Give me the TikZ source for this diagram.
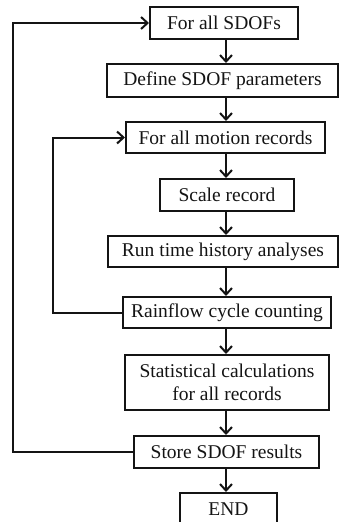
\documentclass[tikz,border=0pt]{standalone}
\usepackage{fontspec}
\setmainfont{Liberation Serif}
\usetikzlibrary{arrows.meta}
\definecolor{ink}{RGB}{20,20,20}
\begin{document}
\begin{tikzpicture}[x=1pt,y=-1pt,
  stepbox/.style={draw=ink, line width=2pt, inner sep=0pt, text=ink,
    font=\fontsize{19.5}{23}\selectfont, align=center},
  conn/.style={line width=2pt, draw=ink,
    -{Straight Barb[length=6.5pt,width=12pt]}}]
\useasboundingbox (0,0) rectangle (339,522);
\node[stepbox, minimum width=148pt, minimum height=32pt] (b1) at (224,23) {For all SDOFs};
\node[stepbox, minimum width=231pt, minimum height=33pt] (b2) at (222.5,80.5) {Define SDOF parameters};
\node[stepbox, minimum width=199pt, minimum height=31pt] (b3) at (225.5,137.5) {For all motion records};
\node[stepbox, minimum width=134pt, minimum height=32pt] (b4) at (227,195) {Scale record};
\node[stepbox, minimum width=230pt, minimum height=31pt] (b5) at (223,251.5) {Run time history analyses};
\node[stepbox, minimum width=208pt, minimum height=31pt] (b6) at (227,312.5) {Rainflow cycle counting};
\node[stepbox, minimum width=204pt, minimum height=55pt] (b7) at (227,382.5) {Statistical calculations\\for all records};
\node[stepbox, minimum width=185pt, minimum height=32pt] (b8) at (226.5,452) {Store SDOF results};
\node[stepbox, minimum width=97pt, minimum height=32pt] (b9) at (228.5,509) {END};
\coordinate (cx) at (226,0);
\draw[conn] (b1.south -| cx) -- (b2.north -| cx);
\draw[conn] (b2.south -| cx) -- (b3.north -| cx);
\draw[conn] (b3.south -| cx) -- (b4.north -| cx);
\draw[conn] (b4.south -| cx) -- (b5.north -| cx);
\draw[conn] (b5.south -| cx) -- (b6.north -| cx);
\draw[conn] (b6.south -| cx) -- (b7.north -| cx);
\draw[conn] (b7.south -| cx) -- (b8.north -| cx);
\draw[conn] (b8.south -| cx) -- (b9.north -| cx);
\draw[conn] (b6.west) -- ++(-69,0) |- (b3.west);
\draw[conn] (b8.west) -- ++(-120,0) |- (b1.west);
\end{tikzpicture}
\end{document}
